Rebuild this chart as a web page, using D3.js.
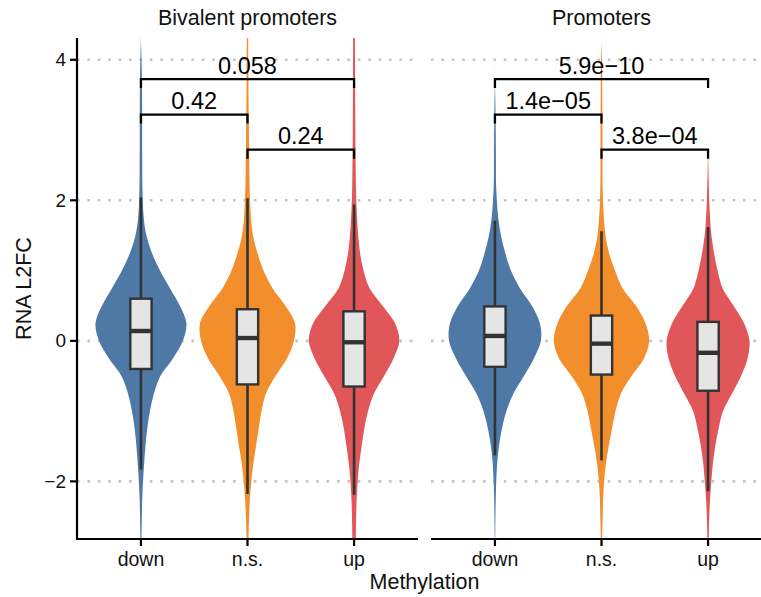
<!DOCTYPE html>
<html>
<head>
<meta charset="utf-8">
<script src="https://cdn.jsdelivr.net/npm/d3@7/dist/d3.min.js"></script>
<style>
  body { margin: 0; background: #fff; }
  svg { display: block; }
  text { font-family: "Liberation Sans", Arial, Helvetica, sans-serif; }
</style>
</head>
<body>
<svg id="chart" width="761" height="597"></svg>
<script>
// ---- data -------------------------------------------------------------
const panels = ["Bivalent promoters", "Promoters"];
const groups = ["down", "n.s.", "up"];
const groupColors = ["#4E79A7", "#F28E2B", "#E15759"];
const yTicks = [-2, 0, 2, 4];

// RNA L2FC values at which the kernel density of each group is listed
const densityGrid = [-3.0, -2.75, -2.5, -2.25, -2.0, -1.75, -1.5, -1.25, -1.0, -0.75,
  -0.5, -0.25, 0, 0.25, 0.5, 0.75, 1.0, 1.25, 1.5, 1.75, 2.0, 2.25, 2.5, 2.75,
  3.0, 3.25, 3.5, 3.75, 4.0, 4.25, 4.5];

// relative density (shared scale) per panel and methylation group
const densityBivalentDown = [0.5, 0.6, 0.9, 1.3, 2.1, 3.2, 4.5, 6.3, 9, 13,
  19.5, 32, 42, 45.5, 39, 29, 19, 11, 5.5, 2.8, 1.8, 1.4, 1.3, 1.2,
  1.2, 1.2, 1.1, 0.9, 0.6, 0.1, 0];
const densityBivalentNs = [0.9, 1.1, 1.6, 2.4, 3.8, 5.8, 8.5, 11.2, 14, 18.5,
  28, 39.5, 46.5, 47.5, 38, 25, 16, 10, 5.5, 3.5, 2.5, 2, 1.8, 1.6,
  1.4, 1.2, 1.0, 0.9, 0.8, 0.7, 0.5];
const densityBivalentUp = [1.6, 1.8, 2.1, 2.6, 3.6, 5.2, 7.6, 10.2, 14, 20,
  30, 39.5, 45.3, 41, 28.5, 15.5, 9.5, 6, 4.1, 3, 2.2, 1.8, 1.6, 1.4,
  1.3, 1.2, 1.1, 1.0, 1.0, 0.9, 0.8];
const densityPromotersDown = [0.2, 0.3, 0.5, 0.8, 1.3, 2.2, 4, 7, 11.5, 18.5,
  29, 39, 46, 45, 37, 25, 16, 10.3, 6, 3.3, 1.9, 1.1, 1.0, 0.9,
  0.8, 0.6, 0.3, 0, 0, 0, 0];
const densityPromotersNs = [0.6, 0.8, 1.2, 1.6, 2.6, 4.4, 7.2, 10.5, 14, 19.5,
  30, 42.5, 47.7, 44, 34.5, 21, 13.5, 7.5, 4, 2.4, 1.5, 1.1, 1.0, 1.0,
  1.0, 0.9, 0.8, 0.7, 0.5, 0, 0];
const densityPromotersUp = [0.6, 0.8, 1.2, 2, 3.3, 4.8, 7.2, 10.5, 15, 24,
  33, 39.5, 41.5, 36, 25.5, 14.5, 9.5, 6, 3.4, 2, 1.2, 0.7, 0.3, 0,
  0, 0, 0, 0, 0, 0, 0];

// box plot statistics (down, n.s., up)
const whiskerLowBivalent  = [-1.83, -2.18, -2.19];
const q1Bivalent          = [-0.40, -0.62, -0.65];
const medianBivalent      = [0.14, 0.04, -0.02];
const q3Bivalent          = [0.60, 0.45, 0.42];
const whiskerHighBivalent = [2.04, 2.03, 1.94];

const whiskerLowPromoters  = [-1.63, -1.70, -2.14];
const q1Promoters          = [-0.37, -0.48, -0.71];
const medianPromoters      = [0.07, -0.04, -0.17];
const q3Promoters          = [0.49, 0.36, 0.27];
const whiskerHighPromoters = [1.71, 1.56, 1.62];

// pairwise comparisons, bracket heights and p-values
const comparisonFrom = ["down", "n.s.", "down"];
const comparisonTo   = ["n.s.", "up", "up"];
const bracketHeights = [3.22, 2.72, 3.725];
const pValuesBivalent  = ["0.42", "0.24", "0.058"];
const pValuesPromoters = ["1.4e\u221205", "3.8e\u221204", "5.9e\u221210"];

// ---- layout -----------------------------------------------------------
const svg = d3.select("#chart");
const panelTop = 38, panelBottom = 539;
const panelX = [[77, 418], [431, 772]];
const ink = "#111111";
const boxInk = "#333333";

const y = d3.scaleLinear().domain([-2.82, 4.31]).range([panelBottom, panelTop]);

const panelData = [
  {
    name: panels[0],
    densities: [densityBivalentDown, densityBivalentNs, densityBivalentUp],
    lo: whiskerLowBivalent, q1: q1Bivalent, med: medianBivalent, q3: q3Bivalent, hi: whiskerHighBivalent,
    p: pValuesBivalent
  },
  {
    name: panels[1],
    densities: [densityPromotersDown, densityPromotersNs, densityPromotersUp],
    lo: whiskerLowPromoters, q1: q1Promoters, med: medianPromoters, q3: q3Promoters, hi: whiskerHighPromoters,
    p: pValuesPromoters
  }
];

const defs = svg.append("defs");

panelData.forEach((pd, pi) => {
  const [x0, x1] = panelX[pi];
  const x = d3.scalePoint().domain(groups).range([x0, x1]).padding(0.6);
  const step = x.step();
  const halfWidth = d3.scaleLinear().domain([0, 48]).range([0, 0.45 * step]);

  const clipId = "clip" + pi;
  defs.append("clipPath").attr("id", clipId)
    .append("rect").attr("x", x0).attr("y", panelTop)
    .attr("width", x1 - x0).attr("height", panelBottom - panelTop);

  const g = svg.append("g");

  // dotted horizontal grid
  g.selectAll("line.grid").data(yTicks).join("line")
    .attr("class", "grid")
    .attr("x1", x0).attr("x2", x1)
    .attr("y1", d => y(d)).attr("y2", d => y(d))
    .attr("stroke", "#C4C4C4").attr("stroke-width", 2.6)
    .attr("stroke-dasharray", "2.6 7.8").attr("stroke-linecap", "butt");

  const plot = g.append("g").attr("clip-path", `url(#${clipId})`);

  // violins
  groups.forEach((grp, gi) => {
    const cx = x(grp);
    const pts = densityGrid.map((v, i) => ({ v, d: pd.densities[gi][i] }));
    const area = d3.area()
      .y(d => y(d.v))
      .x0(d => cx - halfWidth(d.d))
      .x1(d => cx + halfWidth(d.d))
      .curve(d3.curveCatmullRom.alpha(0.5));
    plot.append("path").datum(pts)
      .attr("d", area)
      .attr("fill", groupColors[gi]);
  });

  // box plots
  const boxW = 0.2 * step;
  groups.forEach((grp, gi) => {
    const cx = x(grp);
    const bg = plot.append("g");
    bg.append("line").attr("x1", cx).attr("x2", cx)
      .attr("y1", y(pd.hi[gi])).attr("y2", y(pd.q3[gi]))
      .attr("stroke", boxInk).attr("stroke-width", 2.6);
    bg.append("line").attr("x1", cx).attr("x2", cx)
      .attr("y1", y(pd.q1[gi])).attr("y2", y(pd.lo[gi]))
      .attr("stroke", boxInk).attr("stroke-width", 2.6);
    bg.append("rect")
      .attr("x", cx - boxW / 2).attr("width", boxW)
      .attr("y", y(pd.q3[gi])).attr("height", y(pd.q1[gi]) - y(pd.q3[gi]))
      .attr("fill", "#E5E5E5").attr("stroke", boxInk).attr("stroke-width", 2.4);
    bg.append("line")
      .attr("x1", cx - boxW / 2).attr("x2", cx + boxW / 2)
      .attr("y1", y(pd.med[gi])).attr("y2", y(pd.med[gi]))
      .attr("stroke", boxInk).attr("stroke-width", 4.4);
  });

  // comparison brackets with p-values
  const tip = 0.127;
  bracketHeights.forEach((h, ci) => {
    const xa = x(comparisonFrom[ci]), xb = x(comparisonTo[ci]);
    const path = d3.path();
    path.moveTo(xa, y(h - tip));
    path.lineTo(xa, y(h));
    path.lineTo(xb, y(h));
    path.lineTo(xb, y(h - tip));
    g.append("path").attr("d", path.toString())
      .attr("fill", "none").attr("stroke", "#000").attr("stroke-width", 2.3);
    g.append("text")
      .attr("x", (xa + xb) / 2).attr("y", y(h) - 5.5)
      .attr("text-anchor", "middle")
      .attr("font-size", 23.5).attr("fill", "#000")
      .text(pd.p[ci]);
  });

  // x axis
  const xAxis = g.append("g").attr("transform", `translate(0,${panelBottom})`);
  xAxis.append("line").attr("x1", x0).attr("x2", x1)
    .attr("stroke", "#000").attr("stroke-width", 2.2);
  groups.forEach(grp => {
    xAxis.append("line").attr("x1", x(grp)).attr("x2", x(grp))
      .attr("y1", 0).attr("y2", 7).attr("stroke", "#000").attr("stroke-width", 2.2);
    xAxis.append("text").attr("x", x(grp)).attr("y", 27)
      .attr("text-anchor", "middle").attr("font-size", 19.5).attr("fill", ink)
      .text(grp);
  });

  // strip label
  g.append("text")
    .attr("x", (x0 + x1) / 2).attr("y", 25)
    .attr("text-anchor", "middle").attr("font-size", 21.5).attr("fill", ink)
    .text(pd.name);
});

// y axis on the first panel
const yAxis = svg.append("g").attr("transform", `translate(${panelX[0][0]},0)`);
yAxis.append("line").attr("y1", panelTop).attr("y2", panelBottom + 1.1)
  .attr("stroke", "#000").attr("stroke-width", 2.2);
yTicks.forEach(t => {
  yAxis.append("line").attr("x1", -7).attr("x2", 0)
    .attr("y1", y(t)).attr("y2", y(t)).attr("stroke", "#000").attr("stroke-width", 2.2);
  yAxis.append("text").attr("x", -11).attr("y", y(t))
    .attr("dy", "0.35em").attr("text-anchor", "end")
    .attr("font-size", 19).attr("fill", ink)
    .text(d3.format("")(t).replace("-", "\u2212"));
});

// axis titles
svg.append("text")
  .attr("x", (panelX[0][0] + panelX[1][1]) / 2).attr("y", 589)
  .attr("text-anchor", "middle").attr("font-size", 21.5).attr("fill", ink)
  .text("Methylation");
svg.append("text")
  .attr("transform", `translate(31,${(panelTop + panelBottom) / 2}) rotate(-90)`)
  .attr("text-anchor", "middle").attr("font-size", 21.5).attr("fill", ink)
  .text("RNA L2FC");
</script>
</body>
</html>
